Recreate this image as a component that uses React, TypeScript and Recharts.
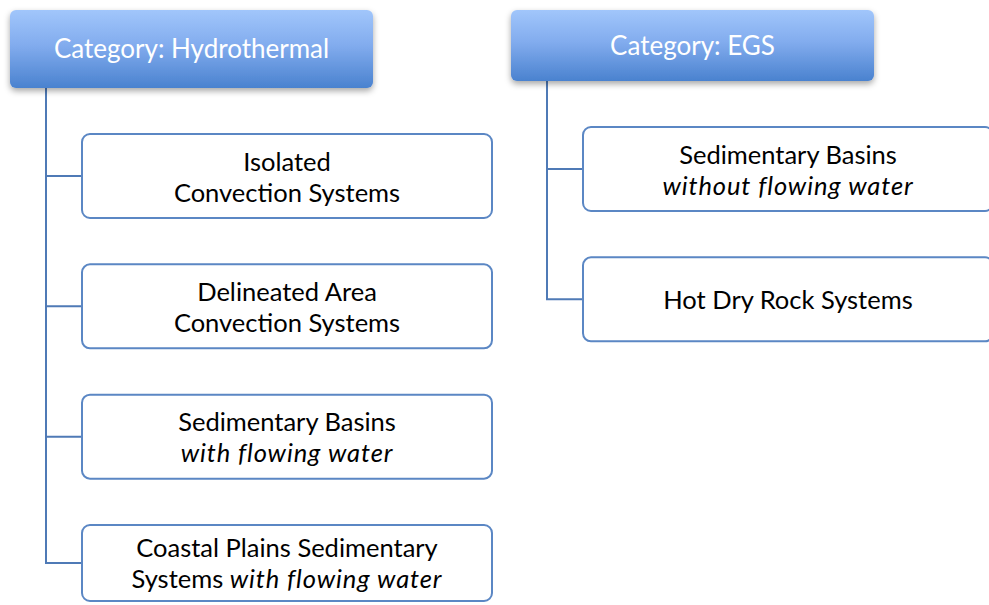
import { ScatterChart, Scatter, XAxis, YAxis } from 'recharts';

// category headers and the resource types under each one
// (*...* marks the italic part of a line)
const categories = ['Category: Hydrothermal', 'Category: EGS'];
const hydrothermalTypes = [
  ['Isolated', 'Convection Systems'],
  ['Delineated Area', 'Convection Systems'],
  ['Sedimentary Basins', '*with flowing water*'],
  ['Coastal Plains Sedimentary', 'Systems *with flowing water*'],
];
const egsTypes = [
  ['Sedimentary Basins', '*without flowing water*'],
  ['Hot Dry Rock Systems'],
];

const headerData = categories.map((name, col) => ({ col, row: 0, name }));
const childData = [hydrothermalTypes, egsTypes].flatMap((items, col) =>
  items.map((lines, k) => ({ col, row: k + 1, lines }))
);

// layout (pixels)
const W = 989;
const H = 605;
const LEFT = 10;
const COL_GAP = 501;
const ROW_PX = 130.33;
const ROW0 = 45.67;
const HEADER_W = 363;
const HEADER_H = [78, 71];
const BOX_W = 410;
const BOX_H = 84;
const BOX_DX = 72;
const TRUNK_DX = 36;
const FONT = 'Lato, "Open Sans", sans-serif';
const LINE_COLOR = '#4f7ab6';
const BOX_COLOR = '#5b87c4';

const renderLine = (line: string, key: number, x: number, y: number) => {
  const parts = line.split('*');
  return (
    <text key={key} x={x} y={y} textAnchor="middle" dominantBaseline="central" fontFamily={FONT} fontSize={25.5} fill="#000">
      {parts.map((p, i) =>
        p ? (
          <tspan key={i} fontStyle={i % 2 === 1 ? 'italic' : 'normal'} letterSpacing={i % 2 === 1 ? 0.9 : 0}>
            {p}
          </tspan>
        ) : null
      )}
    </text>
  );
};

const ChildBox = (props: any) => {
  const { cx, cy, payload } = props;
  const shift = HEADER_H[payload.col] - 78;
  const c = cy + shift;
  const top = c - BOX_H / 2;
  const bottom = Math.min(top + BOX_H, H - 4);
  const mid = (top + bottom) / 2;
  const trunkX = cx + TRUNK_DX;
  const boxX = cx + BOX_DX;
  const prevY = payload.row === 1 ? LEFT + HEADER_H[payload.col] : c - ROW_PX;
  const lines: string[] = payload.lines;
  const lh = 31;
  return (
    <g>
      <line x1={trunkX} y1={prevY} x2={trunkX} y2={mid} stroke={LINE_COLOR} strokeWidth={2} />
      <line x1={trunkX - 1} y1={mid} x2={boxX} y2={mid} stroke={LINE_COLOR} strokeWidth={2} />
      <rect x={boxX} y={top} width={BOX_W} height={bottom - top} rx={8} ry={8} fill="#fff" stroke={BOX_COLOR} strokeWidth={2} />
      {lines.map((l, i) => renderLine(l, i, boxX + BOX_W / 2, mid + (i - (lines.length - 1) / 2) * lh))}
    </g>
  );
};

const HeaderBox = (props: any) => {
  const { cx, cy, payload } = props;
  const h = HEADER_H[payload.col];
  const top = cy - (ROW0 - LEFT);
  const id = `hg${payload.col}`;
  return (
    <g>
      <defs>
        <linearGradient id={id} x1="0" y1="0" x2="0" y2="1">
          <stop offset="0%" stopColor="#a1c6fb" />
          <stop offset="45%" stopColor="#82acee" />
          <stop offset="100%" stopColor="#4a82cf" />
        </linearGradient>
        <filter id={`sh${payload.col}`} x="-10%" y="-20%" width="120%" height="160%">
          <feDropShadow dx="0" dy="3" stdDeviation="3" floodColor="#000" floodOpacity="0.35" />
        </filter>
      </defs>
      <rect x={cx} y={top} width={HEADER_W} height={h} rx={6} ry={6} fill={`url(#${id})`} filter={`url(#sh${payload.col})`} />
      <text x={cx + HEADER_W / 2} y={top + h / 2 - 1} textAnchor="middle" dominantBaseline="central" fontFamily={FONT} fontSize={26} fill="#fff">
        {payload.name}
      </text>
    </g>
  );
};

export default function App() {
  return (
    <div style={{ position: 'absolute', left: 0, top: 0, width: W, height: H, background: '#fff' }}>
      <ScatterChart width={W} height={H} margin={{ top: 0, right: 0, bottom: 0, left: 0 }}>
        <XAxis type="number" dataKey="col" hide domain={[-LEFT / COL_GAP, (W - LEFT) / COL_GAP]} />
        <YAxis type="number" dataKey="row" hide reversed domain={[-ROW0 / ROW_PX, (H - ROW0) / ROW_PX]} />
        <Scatter data={childData} shape={ChildBox} isAnimationActive={false} />
        <Scatter data={headerData} shape={HeaderBox} isAnimationActive={false} />
      </ScatterChart>
    </div>
  );
}
